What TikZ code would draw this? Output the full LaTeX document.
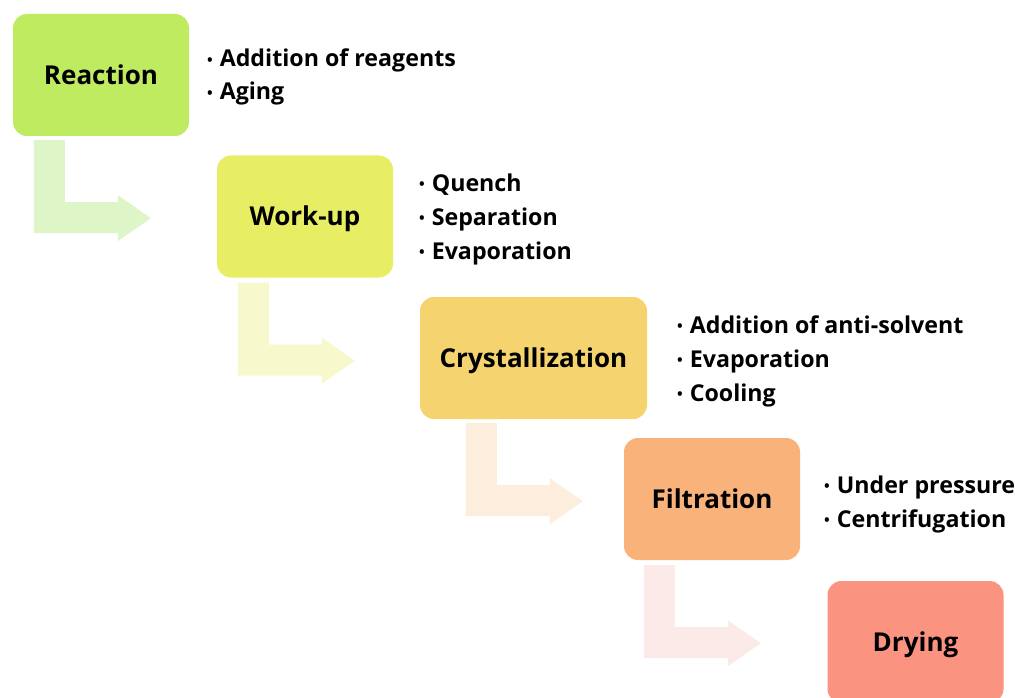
\documentclass[tikz,border=0pt]{standalone}
\usepackage{fontspec}
\setmainfont{Open Sans}
\usetikzlibrary{calc}

% stage colours and their pale connector tints
\definecolor{cReact}{HTML}{BEEB5F}
\definecolor{aReact}{HTML}{DEF5C8}
\definecolor{cWork}{HTML}{E8EE64}
\definecolor{aWork}{HTML}{F8F8CD}
\definecolor{cCryst}{HTML}{F5D36E}
\definecolor{aCryst}{HTML}{FDEDDC}
\definecolor{cFilt}{HTML}{F8B27A}
\definecolor{aFilt}{HTML}{FCEAE8}
\definecolor{cDry}{HTML}{FA9480}

% small list bullet
\newcommand{\opbullet}{\raisebox{1.6pt}{\fontsize{15}{15}\selectfont •}\hspace{0.3em}}

\begin{document}
\begin{tikzpicture}[x=1pt,y=-1pt,
  stage/.style={rounded corners=14pt, minimum width=176pt, minimum height=122pt,
    inner sep=0pt, text height=18.5pt, text depth=0pt,
    font=\fontsize{26}{26}\selectfont\bfseries},
  item/.style={anchor=base west, inner sep=0pt,
    font=\fontsize{23.2}{23.2}\selectfont\bfseries},
  % bent "down then right" block arrow, origin at the top-left of its stem
  bent/.pic={\path[pic actions] (0,0) -- (31,0) -- (31,62) -- (84,62) -- (84,55)
    -- (117,78) -- (84,101) -- (84,93) -- (0,93) -- cycle;}
]
\clip (0,0) rectangle (1015,698);
\fill[white] (0,0) rectangle (1015,698);

% process stages
\node[stage, fill=cReact] (reaction) at (101,75) {Reaction};
\node[stage, fill=cWork] (workup) at (305,216.5) {Work-up};
\node[stage, fill=cCryst, minimum width=227pt] (cryst) at (533.5,358) {Crystallization};
\node[stage, fill=cFilt] (filt) at (712,499) {Filtration};
\node[stage, fill=cDry] (dry) at (915.5,642) {Drying};

% connectors between consecutive stages
\pic[fill=aReact] at ($(reaction.south west)+(21,4)$) {bent};
\pic[fill=aWork]  at ($(workup.south west)+(21,5)$) {bent};
\pic[fill=aCryst] at ($(cryst.south west)+(46,4)$) {bent};
\pic[fill=aFilt]  at ($(filt.south west)+(20,5)$) {bent};

% operations within each stage
\node[item] (r1) at (207,67)  {\opbullet Addition of reagents};
\node[item] (r2) at (207,100) {\opbullet Aging};

\node[item] (w1) at (419,191) {\opbullet Quench};
\node[item] (w2) at (419,225) {\opbullet Separation};
\node[item] (w3) at (419,259) {\opbullet Evaporation};

\node[item] (c1) at (677,333) {\opbullet Addition of anti-solvent};
\node[item] (c2) at (677,367) {\opbullet Evaporation};
\node[item] (c3) at (677,401) {\opbullet Cooling};

\node[item] (f1) at (824,493) {\opbullet Under pressure};
\node[item] (f2) at (824,527) {\opbullet Centrifugation};
\end{tikzpicture}
\end{document}
